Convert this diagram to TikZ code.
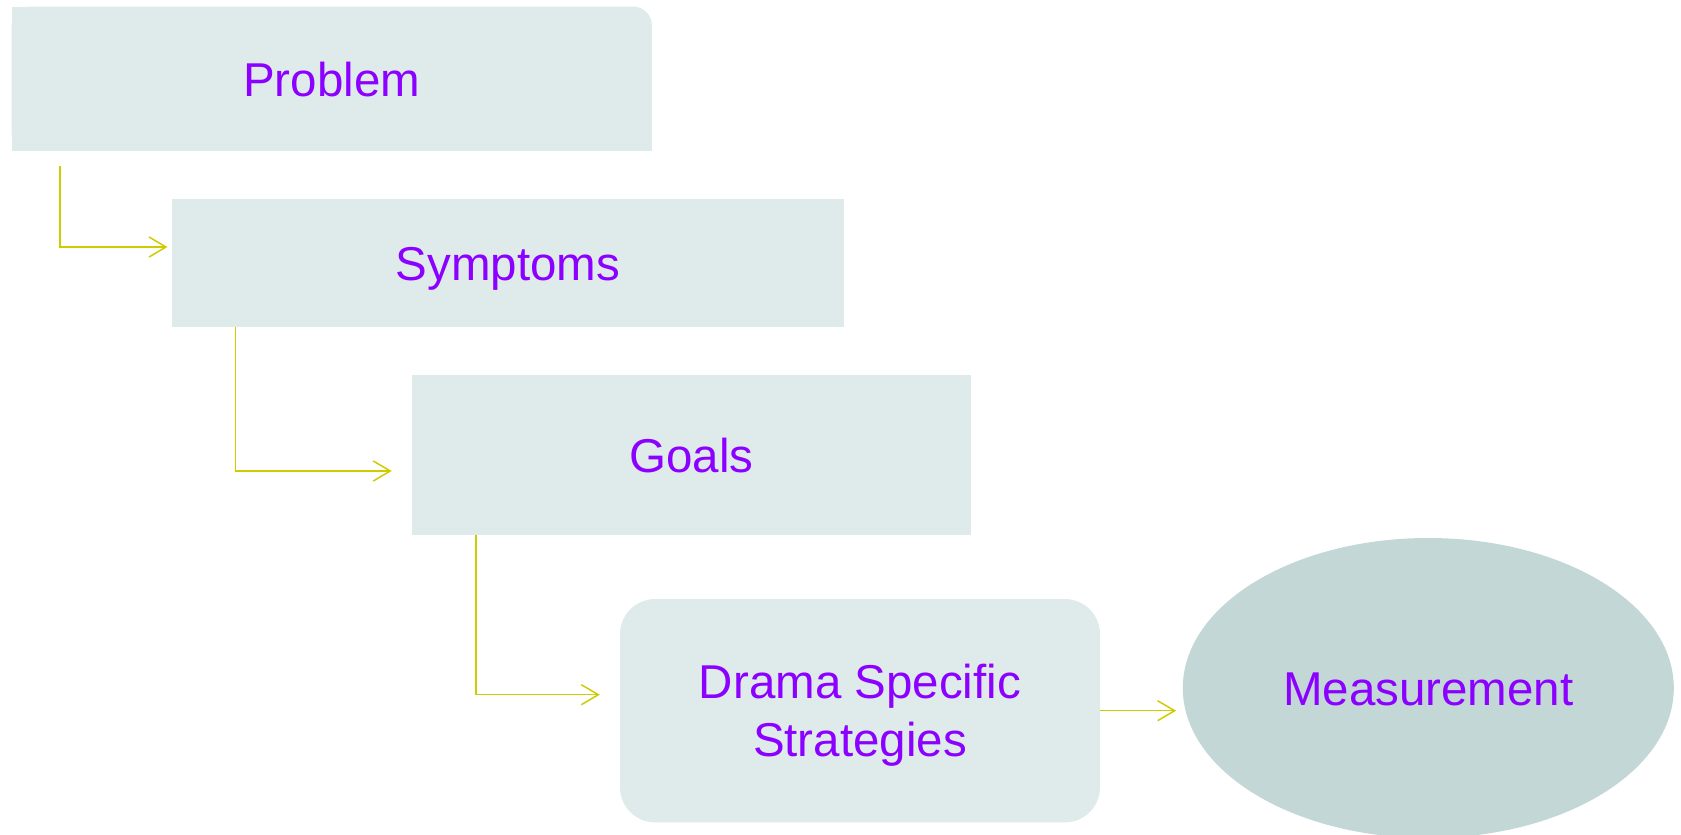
\documentclass[tikz,border=0pt]{standalone}
\usepackage{fontspec}
\setmainfont{Liberation Sans}
\usetikzlibrary{arrows.meta,shapes.geometric}
\definecolor{boxfill}{RGB}{223,235,235}
\definecolor{ellfill}{RGB}{194,215,214}
\definecolor{txtcol}{RGB}{140,0,255}
\definecolor{arrcol}{RGB}{204,204,0}
\tikzset{
  lbl/.style={font=\fontsize{47.5}{57.7}\selectfont, text=txtcol, inner sep=0pt, align=center},
  oneline/.style={lbl, text height=35pt, text depth=0pt},
  sqbox/.style={oneline, rectangle, fill=boxfill},
  conn/.style={draw=arrcol, line width=1.5pt, -{Straight Barb[length=17pt,width=20pt]}},
}
\begin{document}
\begin{tikzpicture}[x=1pt,y=-1pt]
\useasboundingbox (0,0) rectangle (1681,835);
% Problem box (top-right corner rounded)
\node[lbl, minimum width=640pt, minimum height=144pt] (problem) at (331.75,78.7) {};
\fill[boxfill, rounded corners=19pt] (problem.south west) rectangle (problem.north east);
\fill[boxfill] (problem.south west) rectangle ([yshift=-20pt]problem.north east);
\fill[boxfill] (problem.south west) rectangle ([xshift=-20pt]problem.north east);
\node[oneline] (problemtext) at (problem.center) {Problem};
\node[sqbox, minimum width=672pt, minimum height=128pt] (symptoms) at (508,263) {Symptoms};
\node[sqbox, minimum width=559.3pt, minimum height=159.7pt] (goals) at (691.6,454.8) {Goals};
\node[lbl, rectangle, fill=boxfill, rounded corners=35pt, minimum width=480pt, minimum height=223.3pt] (drama) at (860,710.7) {};
\node[lbl] (dramatext) at ([yshift=-4.8pt]drama.center) {Drama Specific\\Strategies};
\node[oneline, ellipse, fill=ellfill, minimum width=491pt, minimum height=300pt] (meas) at (1428.3,688) {Measurement};
% connectors
\coordinate (a1) at (60,166);
\draw[conn] (a1) |- ([xshift=-4.3pt,yshift=16pt]symptoms.west);
\draw[conn] ([xshift=63.7pt]symptoms.south west) |- ([xshift=-20pt,yshift=-16.2pt]goals.west);
\draw[conn] ([xshift=64pt]goals.south west) |- ([xshift=-20pt,yshift=16pt]drama.west);
\draw[conn] (drama.east) -- ([xshift=-6.5pt,yshift=-22.7pt]meas.west);
\end{tikzpicture}
\end{document}
